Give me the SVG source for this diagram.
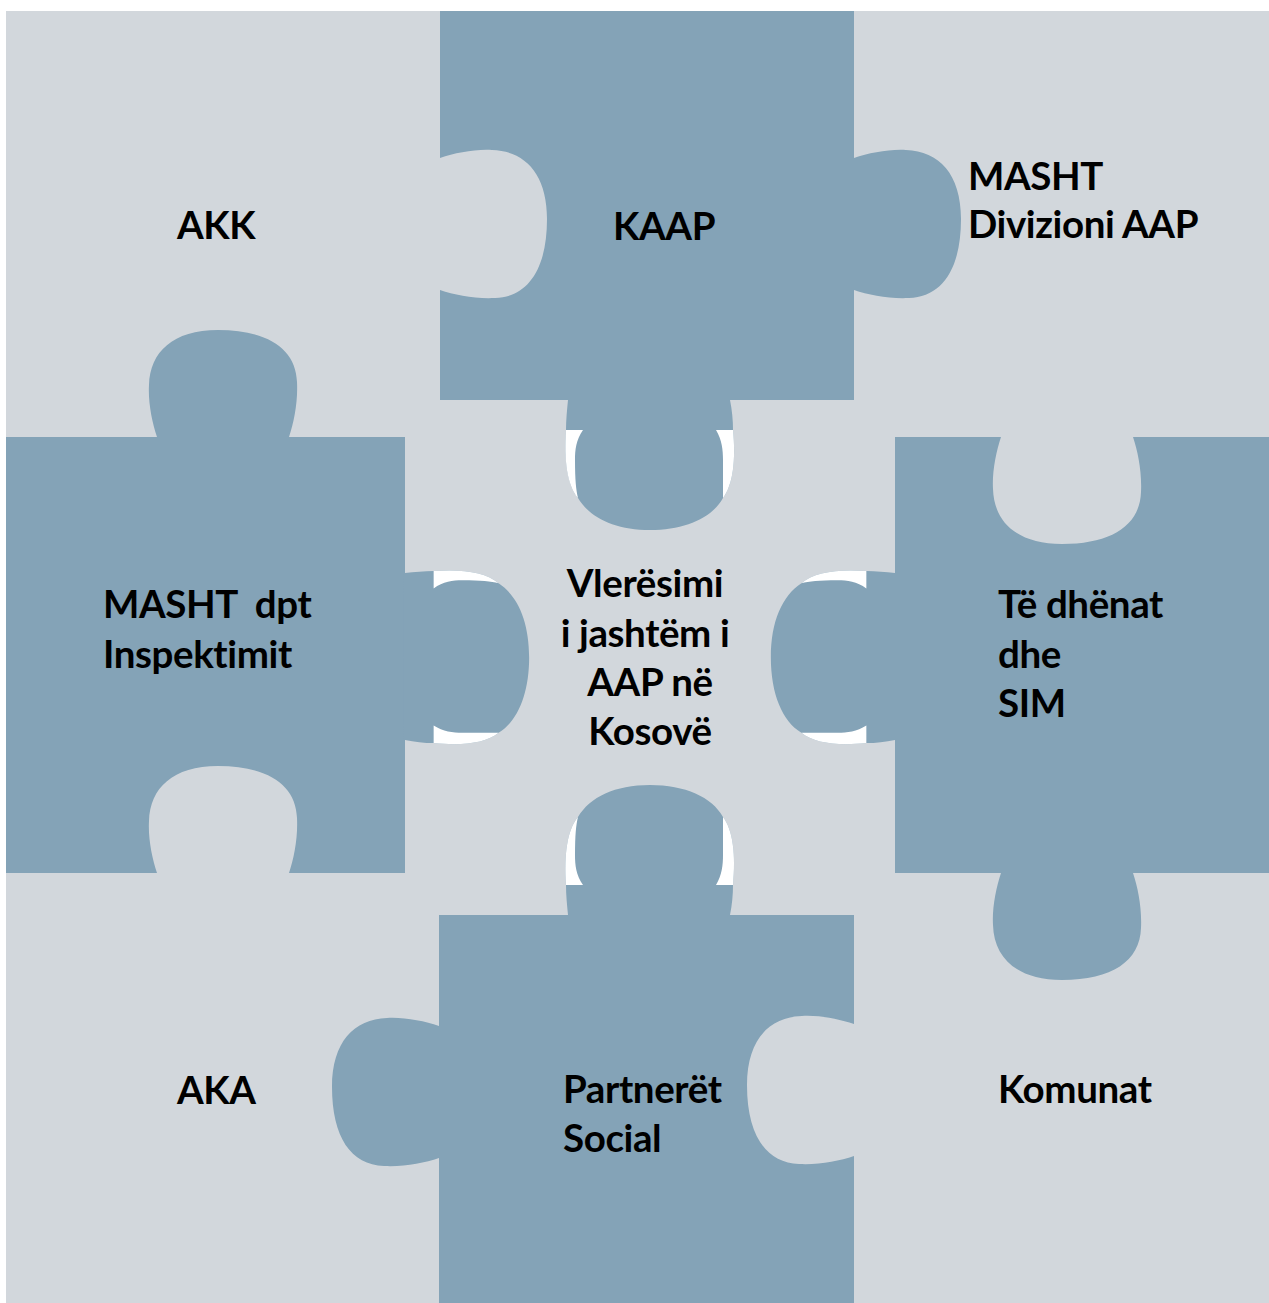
<svg xmlns="http://www.w3.org/2000/svg" xmlns:xlink="http://www.w3.org/1999/xlink" width="1269" height="1303" viewBox="0 0 1269 1303">
  <style>
    .gray{fill:#D2D7DC}
    .blue{fill:#84A3B7}
    .white{fill:#FFFFFF}
    .lbl{font-family:Lato,"Liberation Sans","Noto Sans",sans-serif;font-weight:700;font-size:38.5px;letter-spacing:-0.4px;fill:#000}
  </style>
  <defs>
    <path id="tab" d="M-66,-2 L-66,0 C-71,15 -75,35 -74,52 C-73,85 -50,107 -5,107 C45,107 73,88 74,55 C75,35 71,15 66,0 L66,-2 Z"/>
    <path id="notch" d="M-66,0 C-71,15 -75,35 -74,52 C-73,85 -50,107 -5,107 C45,107 73,88 74,55 C75,35 71,15 66,0 Z"/>
    <path id="ctab" d="M-82,-2 L80,-2 L80,0 C82,10 83,20 83,30 C86,60 83,85 73,98 C62,118 35,130 0,130 C-35,130 -60,118 -72,98 C-83,85 -86,60 -84,30 C-84,20 -83,10 -82,0 Z"/>
    <path id="ccres" d="M-84,30 L-67,30 C-74,40 -75,50 -75,60 C-75,80 -74,90 -72,98 C-83,85 -86,60 -84,30 Z M83,30 L66,30 C72,40 73,50 73,60 C73,80 73,90 73,98 C83,85 86,60 83,30 Z"/>
  </defs>

  <g id="board">
    <rect class="gray" x="6" y="11" width="1263" height="1292"/>
  </g>

  <g id="node-kaap">
    <rect class="blue" x="440" y="11" width="414" height="389"/>
    <use href="#tab" class="blue" transform="matrix(0,1,1,0,854,224)"/>
    <use href="#ctab" class="blue" transform="translate(650,400)"/>
    <text class="lbl" x="613" y="240">KAAP</text>
  </g>

  <g id="node-masht-dpt">
    <rect class="blue" x="6" y="437" width="399" height="436"/>
    <use href="#tab" class="blue" transform="matrix(1,0,0,-1,223,437)"/>
    <use href="#ctab" class="blue" transform="matrix(0,1.03,0.955,0,405,657.5)"/>
    <text class="lbl" x="103" y="618" xml:space="preserve">MASHT  dpt</text>
    <text class="lbl" x="103" y="668">Inspektimit</text>
  </g>

  <g id="node-te-dhenat">
    <rect class="blue" x="895" y="437" width="374" height="436"/>
    <use href="#tab" class="blue" transform="translate(1067,873)"/>
    <use href="#ctab" class="blue" transform="matrix(0,1.03,-0.955,0,895,657.5)"/>
    <text class="lbl" x="998" y="618">Të dhënat</text>
    <text class="lbl" x="998" y="668">dhe</text>
    <text class="lbl" x="998" y="717">SIM</text>
  </g>

  <g id="node-partneret">
    <rect class="blue" x="439" y="915" width="415" height="388"/>
    <use href="#tab" class="blue" transform="matrix(0,1,-1,0,439,1092)"/>
    <use href="#ctab" class="blue" transform="matrix(1,0,0,-1,650,915)"/>
    <text class="lbl" x="563" y="1103">Partnerët</text>
    <text class="lbl" x="563" y="1152">Social</text>
  </g>

  <g id="node-akk">
    <use href="#notch" class="gray" transform="matrix(0,1,1,0,440,224)"/>
    <text class="lbl" x="177" y="239">AKK</text>
  </g>

  <g id="node-masht-divizioni">
    <use href="#notch" class="gray" transform="translate(1067,437)"/>
    <text class="lbl" x="968" y="190">MASHT</text>
    <text class="lbl" x="968" y="238">Divizioni AAP</text>
  </g>

  <g id="node-aka">
    <use href="#notch" class="gray" transform="matrix(1,0,0,-1,223,873)"/>
    <text class="lbl" x="177" y="1104">AKA</text>
  </g>

  <g id="node-komunat">
    <use href="#notch" class="gray" transform="matrix(0,1,-1,0,854,1090)"/>
    <text class="lbl" x="998" y="1103">Komunat</text>
  </g>

  <g id="node-center">
    <use href="#ccres" class="white" transform="translate(650,400)"/>
    <use href="#ccres" class="white" transform="matrix(1,0,0,-1,650,915)"/>
    <use href="#ccres" class="white" transform="matrix(0,1.03,0.955,0,405,657.5)"/>
    <use href="#ccres" class="white" transform="matrix(0,1.03,-0.955,0,895,657.5)"/>
    <text class="lbl" x="645" y="597" text-anchor="middle">Vlerësimi</text>
    <text class="lbl" x="645" y="647" text-anchor="middle">i jashtëm i</text>
    <text class="lbl" x="650" y="696" text-anchor="middle">AAP në</text>
    <text class="lbl" x="650" y="745" text-anchor="middle">Kosovë</text>
  </g>

  <g id="connectors"/>
</svg>
